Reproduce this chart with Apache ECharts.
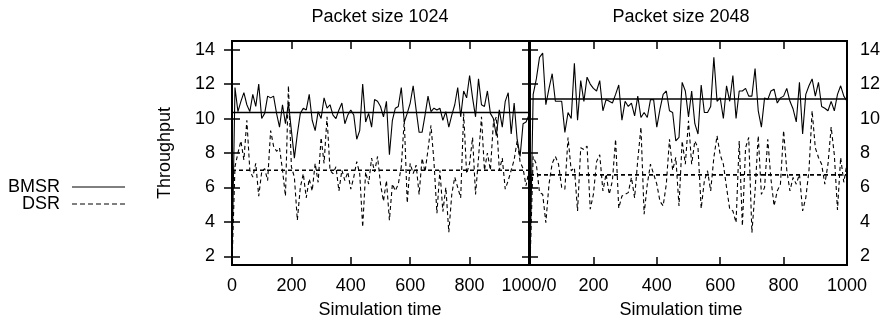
<!DOCTYPE html>
<html><head><meta charset="utf-8">
<script src="https://cdn.jsdelivr.net/npm/echarts@6/dist/echarts.min.js"></script>
<style>html,body{margin:0;padding:0;background:#fff}#c{width:887px;height:325px}</style>
</head><body><div id="c"></div>
<script>
// ---- data ----
const timeStep = 10; // simulation time between samples
const bmsr1024 = [1.5,11.8,10.4,11.0,11.5,10.8,10.4,11.4,10.7,12.0,10.0,10.3,11.3,11.2,11.3,10.3,9.5,10.8,9.7,10.9,
  9.3,7.7,9.1,10.3,10.6,10.5,11.4,9.9,9.3,10.4,10.0,11.2,10.6,10.8,10.2,10.0,10.5,10.9,9.7,10.2,
  10.5,10.2,8.8,9.3,12.0,9.8,10.3,9.5,11.1,11.0,10.7,10.1,11.0,7.9,9.9,10.6,10.7,11.8,9.8,10.3,
  10.9,11.9,10.5,9.2,9.2,10.2,11.3,10.4,10.6,10.5,10.6,9.9,10.4,9.5,10.2,10.8,11.8,10.1,11.6,11.2,
  12.5,11.2,10.1,12.3,10.8,10.7,11.6,10.3,10.0,9.0,10.5,9.5,11.0,11.5,9.1,10.9,8.8,7.8,9.7,9.8,10.2];
const dsr1024 = [1.5,7.2,8.0,8.7,7.6,9.9,7.0,6.6,7.4,5.5,6.9,7.1,6.4,9.3,8.4,8.1,8.3,7.0,5.5,11.9,
  7.2,6.6,4.1,6.0,6.8,5.4,6.5,5.8,7.4,6.3,8.9,7.4,10.1,7.0,6.8,7.2,5.8,7.0,6.4,6.9,
  5.9,6.6,7.5,6.8,3.7,6.9,6.2,7.7,6.9,7.8,6.2,5.2,6.4,4.1,6.2,5.8,6.2,7.2,9.9,5.1,
  7.4,6.8,7.3,5.6,7.7,6.9,8.2,9.6,7.5,4.5,7.0,4.6,6.0,3.4,5.6,6.6,6.0,5.4,10.3,6.8,
  7.4,8.9,5.6,7.7,10.1,7.0,8.0,7.0,9.7,10.1,7.0,7.7,5.9,6.4,7.0,7.6,8.7,7.5,7.1,6.1,7.0];
const bmsr2048 = [1.5,11.4,12.3,13.55,13.8,10.8,11.75,12.6,11.0,11.0,11.0,9.2,10.35,10.0,13.2,9.9,12.2,11.0,12.4,12.0,
  11.75,11.6,12.2,10.45,11.1,11.0,10.9,11.4,11.95,9.9,11.0,10.7,10.9,10.15,11.3,10.06,10.35,10.06,11.1,11.1,
  9.5,10.55,11.4,11.6,10.45,10.35,8.7,8.9,12.1,11.6,10.1,11.6,9.7,9.1,11.95,10.35,10.35,10.7,13.55,11.0,
  11.2,10.0,11.9,11.0,12.5,10.0,11.6,11.6,11.75,11.3,11.3,12.9,10.45,9.5,11.2,11.1,11.6,11.7,10.9,11.2,
  11.3,11.75,11.0,10.55,9.8,12.1,9.1,11.4,11.9,12.3,11.3,12.1,10.7,10.6,10.45,11.0,10.45,11.4,11.9,11.3,11.0];
const dsr2048 = [1.5,7.8,7.35,5.7,5.6,3.96,6.2,7.4,7.8,7.35,6.0,5.9,8.9,6.97,7.15,4.64,8.3,8.2,8.4,4.74,
  5.6,7.5,7.9,5.8,6.78,5.6,6.4,8.8,4.8,5.5,5.6,5.7,6.58,5.4,7.6,9.5,4.45,6.19,7.35,6.78,
  6.19,5.2,4.93,6.19,8.8,7.0,7.74,4.93,8.7,7.35,9.87,7.35,8.7,8.3,4.78,6.38,6.97,5.8,7.74,9.0,
  7.9,7.35,6.0,4.74,4.64,3.96,8.7,3.77,8.3,8.9,3.38,5.8,9.0,5.6,6.0,8.8,6.5,4.93,5.8,6.19,
  9.3,7.0,5.8,6.58,6.19,6.78,4.64,5.4,6.97,10.45,8.3,7.74,7.35,6.19,7.35,9.5,7.9,4.7,7.74,6.3,7.4];
const meanBmsr = [10.35, 11.13];   // 1024, 2048
const meanDsr = [7.0, 6.73];
const yTicks = [2,4,6,8,10,12,14];
const xLabelsLeft = ['0','200','400','600','800','1000/0'];
const xLabelsRight = ['','200','400','600','800','1000'];
const panelTitles = ['Packet size 1024','Packet size 2048'];
const seriesNames = ['BMSR','DSR'];

// ---- chart ----
const FONT = 'Liberation Sans, Arial, Helvetica, sans-serif';
const pts = arr => arr.map((v,i)=>[i*timeStep, v]);
const meanPts = m => [[0,m],[1000,m]];
const tick = {show:true, inside:true, length:8, lineStyle:{color:'#000', width:1.5}};
const lbl = {color:'#000', fontSize:18, fontFamily:FONT};

function xAx(grid, pos, labels){
  return {type:'value', gridIndex:grid, position:pos, min:0, max:1000, interval:200,
    axisLine:{show:false}, splitLine:{show:false}, axisTick:tick,
    axisLabel: labels ? Object.assign({margin:12, showMinLabel:true, showMaxLabel:true,
      formatter:v=>labels[Math.round(v/200)]}, lbl) : {show:false}};
}
function yAx(grid, pos, showLabel, extra){
  return Object.assign({type:'value', gridIndex:grid, position:pos, min:1.5, max:14.5,
    axisLine:{show:false}, splitLine:{show:false},
    axisTick:Object.assign({customValues:yTicks}, tick),
    axisLabel: showLabel ? Object.assign({customValues:yTicks, margin:pos==='left'?17:13}, lbl) : {show:false}}, extra||{});
}
function line(name, data, xi, yi, dashed, w){
  return {name, type:'line', data, xAxisIndex:xi, yAxisIndex:yi, showSymbol:false, symbol:'none',
    animation:false, clip:true, lineStyle:{color:'#000', width:w, type: dashed ? [4,3] : 'solid'}};
}

const chart = echarts.init(document.getElementById('c'), null, {renderer:'canvas'});
chart.setOption({
  backgroundColor:'#fff',
  animation:false,
  grid:[
    {left:232, top:41, width:297, height:224, show:true, borderColor:'#000', borderWidth:2, backgroundColor:'transparent'},
    {left:530, top:41, width:317, height:224, show:true, borderColor:'#000', borderWidth:2, backgroundColor:'transparent'}
  ],
  xAxis:[ xAx(0,'bottom',xLabelsLeft), xAx(0,'top',null), xAx(1,'bottom',xLabelsRight), xAx(1,'top',null) ],
  yAxis:[
    yAx(0,'left',true,{name:'Throughput', nameLocation:'middle', nameGap:58, nameTextStyle:lbl}),
    yAx(0,'right',false), yAx(1,'left',false), yAx(1,'right',true)
  ],
  series:[
    line(seriesNames[0], pts(bmsr1024), 0, 0, false, 1.1),
    line(seriesNames[1], pts(dsr1024), 0, 0, true, 1.1),
    line(seriesNames[0], meanPts(meanBmsr[0]), 0, 0, false, 1.6),
    line(seriesNames[1], meanPts(meanDsr[0]), 0, 0, true, 1.6),
    line(seriesNames[0], pts(bmsr2048), 2, 3, false, 1.1),
    line(seriesNames[1], pts(dsr2048), 2, 3, true, 1.1),
    line(seriesNames[0], meanPts(meanBmsr[1]), 2, 3, false, 1.6),
    line(seriesNames[1], meanPts(meanDsr[1]), 2, 3, true, 1.6)
  ],
  graphic:[
    {type:'text', x:380, y:17, style:{text:panelTitles[0], textAlign:'center', textVerticalAlign:'middle', font:'18px '+FONT, fill:'#000'}},
    {type:'text', x:681, y:17, style:{text:panelTitles[1], textAlign:'center', textVerticalAlign:'middle', font:'18px '+FONT, fill:'#000'}},
    {type:'text', x:380, y:310, style:{text:'Simulation time', textAlign:'center', textVerticalAlign:'middle', font:'18px '+FONT, fill:'#000'}},
    {type:'text', x:681, y:310, style:{text:'Simulation time', textAlign:'center', textVerticalAlign:'middle', font:'18px '+FONT, fill:'#000'}},
    {type:'text', x:60, y:187, style:{text:seriesNames[0], textAlign:'right', textVerticalAlign:'middle', font:'18px '+FONT, fill:'#000'}},
    {type:'text', x:60, y:204, style:{text:seriesNames[1], textAlign:'right', textVerticalAlign:'middle', font:'18px '+FONT, fill:'#000'}},
    {type:'line', shape:{x1:72,y1:187,x2:125,y2:187}, style:{stroke:'#000', lineWidth:1}},
    {type:'line', shape:{x1:72,y1:204,x2:125,y2:204}, style:{stroke:'#000', lineWidth:1, lineDash:[5,3]}}
  ]
});
</script></body></html>
